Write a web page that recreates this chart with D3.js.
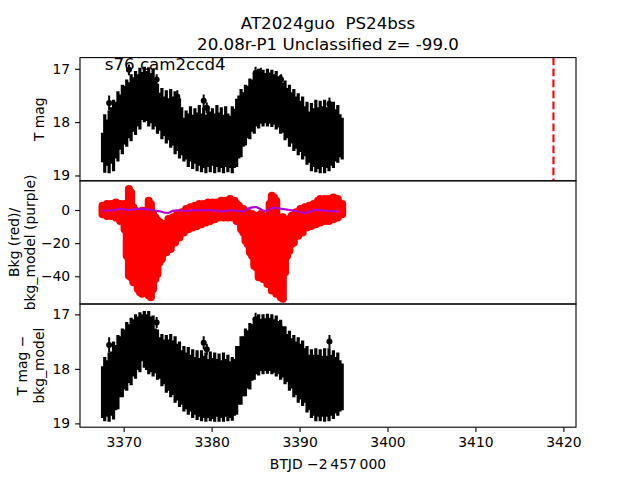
<!DOCTYPE html>
<html><head><meta charset="utf-8">
<script src="https://cdn.jsdelivr.net/npm/d3@7"></script>
<style>body{margin:0;background:#fff} svg text{font-family:"DejaVu Sans",sans-serif;fill:#000;white-space:pre}</style>
</head><body><svg id="c" width="640" height="480"></svg>
<script>
// ---------- data ----------
const time = [3367.60,3367.85,3368.10,3368.35,3368.60,3368.85,3369.10,3369.35,3369.60,3369.85,
3370.10,3370.35,3370.60,3370.85,3371.10,3371.35,3371.60,3371.85,3372.10,3372.35,
3372.60,3372.85,3373.10,3373.35,3373.60,3373.85,3374.10,3374.35,3374.60,3374.85,
3375.10,3375.35,3375.60,3375.85,3376.10,3376.35,3376.60,3376.85,3377.10,3377.35,
3377.60,3377.85,3378.10,3378.35,3378.60,3378.85,3379.10,3379.35,3379.60,3379.85,
3380.10,3380.35,3380.60,3380.85,3381.10,3381.35,3381.60,3381.85,3382.10,3382.35,
3382.60,3382.85,3383.10,3383.35,3383.60,3383.85,3384.10,3384.35,3384.60,3384.85,
3385.10,3385.35,3385.60,3385.85,3386.10,3386.35,3386.60,3386.85,3387.10,3387.35,
3387.60,3387.85,3388.10,3388.35,3388.60,3388.85,3389.10,3389.35,3389.60,3389.85,
3390.10,3390.35,3390.60,3390.85,3391.10,3391.35,3391.60,3391.85,3392.10,3392.35,
3392.60,3392.85,3393.10,3393.35,3393.60,3393.85,3394.10,3394.35,3394.60,3394.85];

// T mag error-bar extents (bright edge / faint edge)
const tmagUpper = [18.20,17.85,17.95,17.78,17.72,17.58,17.62,17.42,17.48,17.30,
17.32,17.20,17.25,17.10,17.16,17.04,17.10,16.98,17.06,16.96,
17.04,16.97,17.08,16.99,17.22,17.28,17.45,17.36,17.52,17.40,
17.55,17.38,17.52,17.42,17.58,17.55,17.72,17.92,17.78,17.84,
17.70,17.86,17.74,17.82,17.68,17.84,17.72,17.86,17.70,17.80,
17.74,17.84,17.68,17.82,17.72,17.86,17.70,17.84,17.88,17.70,
17.75,17.56,17.50,17.38,17.44,17.30,17.32,17.18,17.20,17.08,
17.10,17.00,17.10,17.02,17.08,17.00,17.07,17.02,17.10,17.04,
17.14,17.12,17.26,17.22,17.36,17.30,17.44,17.38,17.52,17.46,
17.60,17.52,17.70,17.62,17.80,17.64,17.74,17.58,17.72,17.60,
17.70,17.58,17.72,17.60,17.68,17.62,17.76,17.68,17.85,17.92];
const tmagLower = [18.75,18.95,18.82,18.96,18.78,18.92,18.68,18.74,18.52,18.60,
18.42,18.46,18.30,18.36,18.18,18.24,18.08,18.14,17.96,18.00,
17.98,18.08,18.02,18.14,18.08,18.22,18.16,18.32,18.26,18.40,
18.34,18.48,18.44,18.60,18.54,18.68,18.62,18.74,18.70,18.84,
18.74,18.88,18.78,18.92,18.82,18.94,18.86,18.96,18.84,18.94,
18.82,18.96,18.84,18.94,18.86,18.96,18.84,18.94,18.86,18.96,
18.86,18.84,18.68,18.66,18.46,18.44,18.30,18.32,18.18,18.22,
18.08,18.12,18.03,18.08,18.02,18.08,18.03,18.09,18.05,18.14,
18.10,18.22,18.20,18.34,18.30,18.46,18.40,18.54,18.50,18.62,
18.56,18.70,18.64,18.80,18.76,18.92,18.84,18.94,18.88,18.96,
18.84,18.96,18.86,18.92,18.82,18.86,18.74,18.76,18.66,18.70];

// Background (red) extents
const bkgUpper = [5,3,6,4,6,5,7,4,6,4,
6,5,15,13,4,2,1,0,2,0,
2,8,6,0,-2,-4,-5,-8,-6,-7,
-3,-5,-2,-3,0,-2,1,0,3,2,
4,3,5,4,6,4,6,5,7,5,
7,6,7,6,8,6,8,7,9,7,
8,6,5,3,3,0,1,-2,0,-2,
-1,-3,0,-2,-2,-4,6,11,10,8,
-2,-4,-2,-5,-4,-3,-1,-2,1,0,
3,2,4,3,5,4,6,5,8,9,
7,9,8,9,8,10,7,9,6,6];
const bkgLower = [-5,-3,-6,-4,-6,-5,-7,-6,-9,-9,
-14,-30,-42,-43,-46,-44,-50,-52,-53,-45,
-48,-54,-55,-50,-44,-41,-34,-32,-28,-28,
-25,-26,-22,-22,-19,-19,-16,-16,-13,-14,
-11,-13,-10,-12,-9,-11,-8,-10,-7,-9,
-6,-8,-5,-7,-5,-7,-5,-7,-5,-7,
-6,-9,-9,-14,-16,-21,-23,-28,-30,-36,
-37,-43,-43,-44,-44,-47,-46,-51,-51,-53,
-52,-55,-56,-40,-30,-27,-23,-22,-18,-18,
-15,-16,-12,-13,-11,-12,-9,-11,-8,-10,
-8,-9,-7,-9,-7,-8,-6,-7,-5,-5];

// T mag - bkg_model extents
const diffUpper = [17.95,17.78,17.84,17.70,17.68,17.50,17.56,17.38,17.40,17.26,
17.28,17.14,17.18,17.06,17.09,17.00,17.04,16.96,17.00,16.94,
17.00,16.94,17.04,17.02,17.26,17.28,17.42,17.36,17.46,17.38,
17.46,17.36,17.48,17.40,17.54,17.50,17.66,17.58,17.70,17.60,
17.74,17.64,17.78,17.66,17.80,17.66,17.76,17.70,17.82,17.68,
17.80,17.70,17.82,17.72,17.84,17.70,17.82,17.74,17.86,17.78,
17.82,17.58,17.58,17.40,17.40,17.26,17.29,17.16,17.18,17.06,
17.09,17.00,17.08,17.00,17.07,16.99,17.06,17.00,17.09,17.02,
17.12,17.10,17.24,17.22,17.36,17.30,17.44,17.38,17.50,17.42,
17.54,17.48,17.62,17.58,17.74,17.64,17.74,17.62,17.74,17.64,
17.76,17.62,17.76,17.62,17.74,17.66,17.78,17.70,17.84,17.90];
const diffLower = [18.90,18.96,18.88,18.97,18.86,18.93,18.76,18.74,18.52,18.52,
18.38,18.40,18.26,18.30,18.14,18.18,18.02,18.06,17.86,17.98,
18.02,18.10,18.06,18.14,18.08,18.20,18.18,18.32,18.28,18.44,
18.40,18.52,18.48,18.62,18.58,18.70,18.66,18.78,18.74,18.84,
18.78,18.90,18.84,18.94,18.88,18.96,18.90,18.97,18.90,18.96,
18.92,18.97,18.88,18.97,18.90,18.97,18.88,18.96,18.90,18.95,
18.86,18.84,18.66,18.66,18.50,18.50,18.36,18.38,18.22,18.20,
18.10,18.12,18.04,18.10,18.04,18.09,18.04,18.10,18.07,18.14,
18.10,18.20,18.16,18.28,18.24,18.40,18.36,18.52,18.48,18.62,
18.56,18.68,18.62,18.80,18.76,18.90,18.86,18.96,18.88,18.96,
18.88,18.97,18.88,18.96,18.86,18.92,18.82,18.86,18.78,18.76];

// bkg_model (purple)
const modelTime = [3367.6,3368.1,3368.6,3369.1,3369.6,3370.1,3370.6,3371.1,3371.6,3372.1,
3372.6,3373.1,3373.6,3374.1,3374.6,3375.1,3375.6,3376.1,3376.6,3377.1,
3377.6,3378.1,3378.6,3379.1,3379.6,3380.1,3380.6,3381.1,3381.6,3382.1,
3382.6,3383.1,3383.6,3384.1,3384.6,3385.1,3385.6,3386.1,3386.6,3387.1,
3387.6,3388.1,3388.6,3389.1,3389.6,3390.1,3390.6,3391.1,3391.6,3392.1,
3392.6,3393.1,3393.6,3394.1,3394.6];
const modelValue = [-0.5,-0.3,-0.2,0.0,0.8,0.3,0.0,0.3,0.6,0.8,
0.4,0.0,-0.3,-0.8,-1.5,-1.8,-0.5,-0.2,-0.3,-0.6,
-0.3,-0.1,0.0,-0.2,0.0,-0.2,-0.4,-1.0,-0.5,-0.2,
-0.3,-0.6,-1.0,0.8,1.6,1.8,0.4,-1.0,0.6,1.4,
1.0,0.6,0.2,-0.2,-0.6,-1.2,-2.0,-1.0,-0.2,0.2,
-0.2,-0.5,-0.6,-0.8,-0.9];

// isolated points (visible markers)
const outTime = [3368.35,3370.60,3373.75,3376.10,3379.10,3379.45,3385.00,3385.60,3387.90,3393.40];
const outMag  = [17.64,17.02,17.20,17.52,17.60,17.73,17.08,17.08,17.20,17.66];
const outErr  = [0.14,0.10,0.10,0.12,0.12,0.10,0.12,0.10,0.10,0.12];
const outDiffTime = [3368.35,3373.75,3379.10,3379.45,3385.00,3387.90,3393.40];
const outDiffMag  = [17.56,17.15,17.52,17.64,17.09,17.26,17.50];
const outDiffErr  = [0.14,0.10,0.12,0.10,0.12,0.10,0.12];

const eventTime = 3418.87;
const xTicks = [3370,3380,3390,3400,3410,3420];
const magTicks = [17,18,19];
const bkgTicks = [0,-20,-40];
const titleLines = ["AT2024guo  PS24bss","20.08r-P1 Unclassified z= -99.0"];
const sectorLabel = "s76 cam2ccd4";

// ---------- layout ----------
const svg = d3.select("#c");
const L = 80, R = 576, T = 57.6, B = 427.2;
const H = (B - T) / 3;
const panels = [T, T + H, T + 2 * H];
const FS = 13.9;

const xmin = d3.min(time), xmax = eventTime, pad = (xmax - xmin) * 0.05;
const x = d3.scaleLinear().domain([xmin - pad, xmax + pad]).range([L, R]);
const y1 = d3.scaleLinear().domain([16.79, 19.10]).range([panels[0], panels[0] + H]);
const y2 = d3.scaleLinear().domain([17.6, -56.7]).range([panels[1], panels[1] + H]);
const y3 = d3.scaleLinear().domain([16.81, 19.07]).range([panels[2], panels[2] + H]);

svg.append("rect").attr("width", 640).attr("height", 480).attr("fill", "#fff");

function clip(id, top) {
  svg.append("clipPath").attr("id", id).append("rect")
    .attr("x", L).attr("y", top).attr("width", R - L).attr("height", H);
  return "url(#" + id + ")";
}

// ---- panel 1: T mag ----
const g1 = svg.append("g").attr("clip-path", clip("c1", panels[0]));
g1.selectAll("line.eb").data(time).join("line")
  .attr("x1", d => x(d)).attr("x2", d => x(d))
  .attr("y1", (d, i) => y1(tmagUpper[i])).attr("y2", (d, i) => y1(tmagLower[i]))
  .attr("stroke", "#000").attr("stroke-width", 3.2);
g1.selectAll("line.ob").data(outTime).join("line")
  .attr("x1", d => x(d)).attr("x2", d => x(d))
  .attr("y1", (d, i) => y1(outMag[i] - outErr[i])).attr("y2", (d, i) => y1(outMag[i] + outErr[i]))
  .attr("stroke", "#000").attr("stroke-width", 2);
g1.selectAll("circle").data(outTime).join("circle")
  .attr("cx", d => x(d)).attr("cy", (d, i) => y1(outMag[i])).attr("r", 3).attr("fill", "#000");
g1.append("line").attr("x1", x(eventTime)).attr("x2", x(eventTime))
  .attr("y1", panels[0]).attr("y2", panels[0] + H)
  .attr("stroke", "#ff0000").attr("stroke-width", 2.1).attr("stroke-dasharray", "7.7,3.3");

// ---- panel 2: background ----
const g2 = svg.append("g").attr("clip-path", clip("c2", panels[1]));
const mr = 4;
g2.selectAll("line").data(time).join("line")
  .attr("x1", d => x(d)).attr("x2", d => x(d))
  .attr("y1", (d, i) => Math.min(y2(bkgUpper[i]) + mr, y2(bkgLower[i]) - mr + 0.01))
  .attr("y2", (d, i) => Math.max(y2(bkgLower[i]) - mr, y2(bkgUpper[i]) + mr))
  .attr("stroke", "#ff0000").attr("stroke-width", 2 * mr).attr("stroke-linecap", "round");
g2.append("path").datum(modelTime)
  .attr("d", d3.line().x(d => x(d)).y((d, i) => y2(modelValue[i])))
  .attr("fill", "none").attr("stroke", "#b000d0").attr("stroke-width", 2.2);

// ---- panel 3: T mag - bkg_model ----
const g3 = svg.append("g").attr("clip-path", clip("c3", panels[2]));
g3.selectAll("line.eb").data(time).join("line")
  .attr("x1", d => x(d)).attr("x2", d => x(d))
  .attr("y1", (d, i) => y3(diffUpper[i])).attr("y2", (d, i) => y3(diffLower[i]))
  .attr("stroke", "#000").attr("stroke-width", 3.2);
g3.selectAll("line.ob").data(outDiffTime).join("line")
  .attr("x1", d => x(d)).attr("x2", d => x(d))
  .attr("y1", (d, i) => y3(outDiffMag[i] - outDiffErr[i])).attr("y2", (d, i) => y3(outDiffMag[i] + outDiffErr[i]))
  .attr("stroke", "#000").attr("stroke-width", 2);
g3.selectAll("circle").data(outDiffTime).join("circle")
  .attr("cx", d => x(d)).attr("cy", (d, i) => y3(outDiffMag[i])).attr("r", 3).attr("fill", "#000");

// ---- axes ----
function yAxis(scale, ticks) {
  const a = svg.append("g").attr("transform", `translate(${L},0)`)
    .call(d3.axisLeft(scale).tickValues(ticks).tickFormat(d3.format("d")).tickSize(4.9).tickPadding(4.9));
  a.select(".domain").remove();
  a.selectAll("line").attr("stroke", "#000").attr("stroke-width", 1.1);
  a.selectAll("text").attr("font-size", FS).attr("font-family", "DejaVu Sans");
}
yAxis(y1, magTicks); yAxis(y2, bkgTicks); yAxis(y3, magTicks);
const xa = svg.append("g").attr("transform", `translate(0,${B})`)
  .call(d3.axisBottom(x).tickValues(xTicks).tickFormat(d3.format("d")).tickSize(4.9).tickPadding(4.9));
xa.select(".domain").remove();
xa.selectAll("line").attr("stroke", "#000").attr("stroke-width", 1.1);
xa.selectAll("text").attr("font-size", FS).attr("font-family", "DejaVu Sans");

panels.forEach(t => svg.append("rect").attr("x", L).attr("y", t).attr("width", R - L).attr("height", H)
  .attr("fill", "none").attr("stroke", "#000").attr("stroke-width", 1.1));

// ---- texts ----
const cx = (L + R) / 2;
svg.append("text").attr("x", cx).attr("y", 28.5).attr("text-anchor", "middle").attr("font-size", 16.67).text(titleLines[0]);
svg.append("text").attr("x", cx).attr("y", 49.5).attr("text-anchor", "middle").attr("font-size", 16.67).text(titleLines[1]);
svg.append("text").attr("x", x(3367.85)).attr("y", 70).attr("font-size", 16.67).text(sectorLabel);
svg.append("text").attr("x", cx).attr("y", 469).attr("text-anchor", "middle").attr("font-size", FS)
  .text("BTJD \u22122\u2009457\u2009000");

function ylab(lines, xs, yc) {
  lines.forEach((s, k) => svg.append("text")
    .attr("transform", `translate(${xs[k]},${yc}) rotate(-90)`)
    .attr("text-anchor", "middle").attr("dominant-baseline", "central").attr("font-size", FS).text(s));
}
ylab(["T mag"], [39], panels[0] + H / 2);
ylab(["Bkg (red)/", "bkg_model (purple)"], [14, 30], panels[1] + H / 2);
ylab(["T mag \u2212", "bkg_model"], [22, 39], panels[2] + H / 2);
</script></body></html>
